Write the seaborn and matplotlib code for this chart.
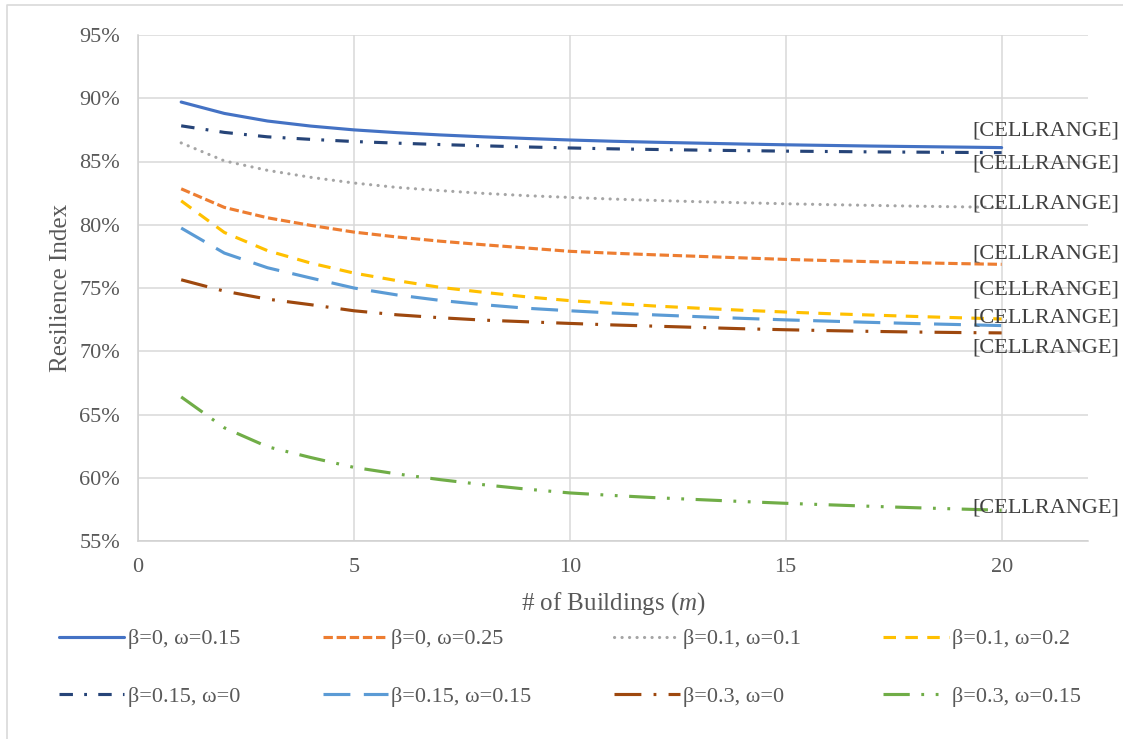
import numpy as np
import pandas as pd
import seaborn as sns
import matplotlib
matplotlib.use("Agg")
import matplotlib.pyplot as plt
from matplotlib.lines import Line2D

# ---------------- data ----------------
buildings = list(range(1, 21))

series_names = [
    "β=0, ω=0.15", "β=0, ω=0.25", "β=0.1, ω=0.1", "β=0.1, ω=0.2",
    "β=0.15, ω=0", "β=0.15, ω=0.15", "β=0.3, ω=0", "β=0.3, ω=0.15",
]

b0_w015 = [89.7, 88.8, 88.2, 87.8, 87.5, 87.28, 87.1, 86.95, 86.82, 86.7,
           86.6, 86.52, 86.45, 86.38, 86.32, 86.27, 86.22, 86.18, 86.14, 86.1]
b0_w025 = [82.84, 81.37, 80.55, 79.95, 79.42, 79.03, 78.7, 78.42, 78.16, 77.9,
           77.75, 77.62, 77.5, 77.38, 77.26, 77.17, 77.08, 77.0, 76.93, 76.87]
b01_w01 = [86.47, 85.05, 84.3, 83.75, 83.3, 82.95, 82.7, 82.48, 82.3, 82.16,
           82.03, 81.92, 81.82, 81.74, 81.66, 81.59, 81.53, 81.47, 81.42, 81.37]
b01_w02 = [81.89, 79.39, 77.95, 76.97, 76.18, 75.58, 75.05, 74.66, 74.3, 74.0,
           73.78, 73.57, 73.4, 73.24, 73.1, 72.97, 72.86, 72.75, 72.65, 72.55]
b015_w0 = [87.82, 87.3, 86.95, 86.75, 86.58, 86.45, 86.34, 86.24, 86.15, 86.07,
           86.0, 85.95, 85.9, 85.86, 85.82, 85.79, 85.76, 85.74, 85.72, 85.7]
b015_w015 = [79.74, 77.76, 76.6, 75.79, 75.0, 74.45, 74.02, 73.68, 73.4, 73.2,
             73.02, 72.87, 72.73, 72.6, 72.48, 72.38, 72.28, 72.19, 72.11, 72.03]
b03_w0 = [75.65, 74.75, 74.12, 73.68, 73.2, 72.88, 72.65, 72.46, 72.33, 72.2,
          72.08, 71.98, 71.88, 71.78, 71.7, 71.63, 71.57, 71.52, 71.48, 71.45]
b03_w015 = [66.39, 63.95, 62.45, 61.6, 60.82, 60.3, 59.85, 59.45, 59.1, 58.8,
            58.6, 58.42, 58.27, 58.12, 57.98, 57.86, 57.74, 57.63, 57.53, 57.43]

all_values = [b0_w015, b0_w025, b01_w01, b01_w02, b015_w0, b015_w015, b03_w0, b03_w015]

x_ticks = [0, 5, 10, 15, 20]
y_ticks = [55, 60, 65, 70, 75, 80, 85, 90, 95]
label_text = "[CELLRANGE]"

# ---------------- styling ----------------
colors = ["#4472C4", "#ED7D31", "#A5A5A5", "#FFC000",
          "#264478", "#5B9BD5", "#9E480E", "#70AD47"]
dash_styles = [
    "",                                  # solid
    (3.0, 1.2),                          # square dot
    (0.05, 2.35),                        # round dot
    (4.0, 3.0),                          # dash
    (4.3, 3.6, 0.9, 3.6),                # dash dot
    (8.6, 4.3),                          # long dash
    (8.6, 3.9, 0.9, 3.9),                # long dash dot
    (8.4, 3.7, 0.9, 3.7, 0.9, 3.7),      # long dash dot dot
]
# label offsets (pixels) relative to each series' last point: dx, dy (down positive)
label_offsets = [(44, -17), (44, -10), (44, -3), (44, -29),
                 (44, 11), (44, -8), (44, 15), (44, -2)]

sns.set_style("white")
plt.rcParams["font.family"] = ["Liberation Serif", "DejaVu Serif"]
plt.rcParams["mathtext.fontset"] = "custom"
plt.rcParams["mathtext.it"] = "Liberation Serif:italic"
plt.rcParams["mathtext.rm"] = "Liberation Serif"

df = pd.DataFrame({
    "m": np.tile(buildings, len(series_names)),
    "value": np.concatenate(all_values),
    "series": np.repeat(series_names, len(buildings)),
})

W, H = 1123, 739
fig = plt.figure(figsize=(W / 100, H / 100), dpi=100)
ax = fig.add_axes([138 / W, 1 - 541 / H, 950 / W, 506 / H])

sns.lineplot(data=df, x="m", y="value", hue="series", style="series",
             hue_order=series_names, style_order=series_names,
             palette=dict(zip(series_names, colors)),
             dashes=dict(zip(series_names, dash_styles)),
             linewidth=2.25, legend=False, ax=ax)

for ln in ax.get_lines():
    ln.set_solid_capstyle("round")
ax.get_lines()[2].set_dash_capstyle("round")

ax.set_xlim(0, 22)
ax.set_ylim(55, 95)
ax.set_xticks(x_ticks)
ax.set_yticks(y_ticks)
ax.set_yticklabels([f"{v}%" for v in y_ticks])
ax.tick_params(axis="both", length=0, labelsize=16, labelcolor="#595959")
ax.tick_params(axis="y", pad=13)
ax.tick_params(axis="x", pad=12)

ax.grid(True, color="#D9D9D9", linewidth=1.1)
ax.set_axisbelow(True)
for side in ["top", "right"]:
    ax.spines[side].set_visible(False)
for side in ["left", "bottom"]:
    ax.spines[side].set_color("#D0D0D0")
    ax.spines[side].set_linewidth(1.1)

ax.set_ylabel("Resilience Index", fontsize=18, color="#595959", labelpad=5)
ax.set_xlabel("# of Buildings ($m$)", fontsize=18, color="#595959", labelpad=10)

# data labels
for vals, (dx, dy) in zip(all_values, label_offsets):
    ax.annotate(label_text, xy=(buildings[-1], vals[-1]),
                xytext=(dx * 0.72, -dy * 0.72), textcoords="offset points",
                ha="center", va="center", fontsize=16, color="#404040")

# legend (row-major order in reference -> column-major for matplotlib)
lines = ax.get_lines()[:len(series_names)]
order = [0, 4, 1, 5, 2, 6, 3, 7]
handles = [lines[i] for i in order]
labels = [series_names[i] for i in order]
fig.legend(handles, labels, ncol=4, mode="expand",
           bbox_to_anchor=(50 / W, 1 - 725 / H, 1040 / W, 105 / H),
           loc="upper left", frameon=False, fontsize=16,
           labelcolor="#595959", handlelength=2.95, handletextpad=0.15,
           labelspacing=1.65, borderaxespad=0)

# outer chart border (left and top)
fig.add_artist(Line2D([7 / W, 7 / W, 1.0], [0.0, 1 - 5 / H, 1 - 5 / H],
                      transform=fig.transFigure, color="#D9D9D9", linewidth=1.2))

fig.savefig("out.png", dpi=100)
